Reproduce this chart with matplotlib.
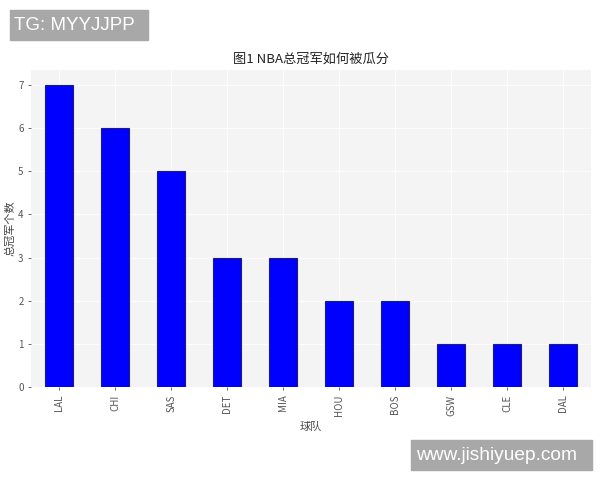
import numpy as np
import matplotlib.pyplot as plt

plt.rcParams['font.family'] = ['Noto Sans CJK SC', 'DejaVu Sans']

teams = ['LAL', 'CHI', 'SAS', 'DET', 'MIA', 'HOU', 'BOS', 'GSW', 'CLE', 'DAL']
titles = [7, 6, 5, 3, 3, 2, 2, 1, 1, 1]

fig = plt.figure(figsize=(6, 4.8), dpi=100)
ax = fig.add_axes([0.052, 0.194, 0.933, 0.66])
ax.set_facecolor('#f4f4f4')

x = np.arange(len(teams))
ax.bar(x, titles, width=0.5, color='#0000ff', edgecolor='#1c1c80', linewidth=0.8, zorder=3)

ax.set_xlim(-0.5, len(teams) - 0.5)
ax.set_ylim(0, max(titles) * 1.05)
ax.set_xticks(x)
ax.set_xticklabels(teams, rotation=90)
ax.set_yticks(range(0, 8))
ax.tick_params(labelsize=7, colors='#555555', length=2, width=0.6)
ax.grid(True, color='white', linewidth=0.8, alpha=0.8, zorder=0)
for s in ax.spines.values():
    s.set_visible(False)

ax.set_title('图1 NBA总冠军如何被瓜分', fontsize=9.5, color='#222222', pad=5)
ax.set_xlabel('球队', fontsize=8, color='#444444')
ax.set_ylabel('总冠军个数', fontsize=8, color='#444444', labelpad=2)

# watermark boxes
fig.patches.append(plt.Rectangle((10 / 600, 1 - 40 / 480), 138 / 600, 30 / 480,
                                 transform=fig.transFigure, color='#a8a8a8'))
fig.text(14 / 600, 1 - 25 / 480, 'TG: MYYJJPP', color='white', fontsize=13.5,
         va='center', ha='left', family='Liberation Sans')
fig.patches.append(plt.Rectangle((411 / 600, 1 - 470 / 480), 181 / 600, 30 / 480,
                                 transform=fig.transFigure, color='#a8a8a8'))
fig.text(416 / 600, 1 - 455 / 480, 'www.jishiyuep.com', color='white', fontsize=13.8,
         va='center', ha='left', family='Liberation Sans')

fig.savefig('out.png', dpi=100)
